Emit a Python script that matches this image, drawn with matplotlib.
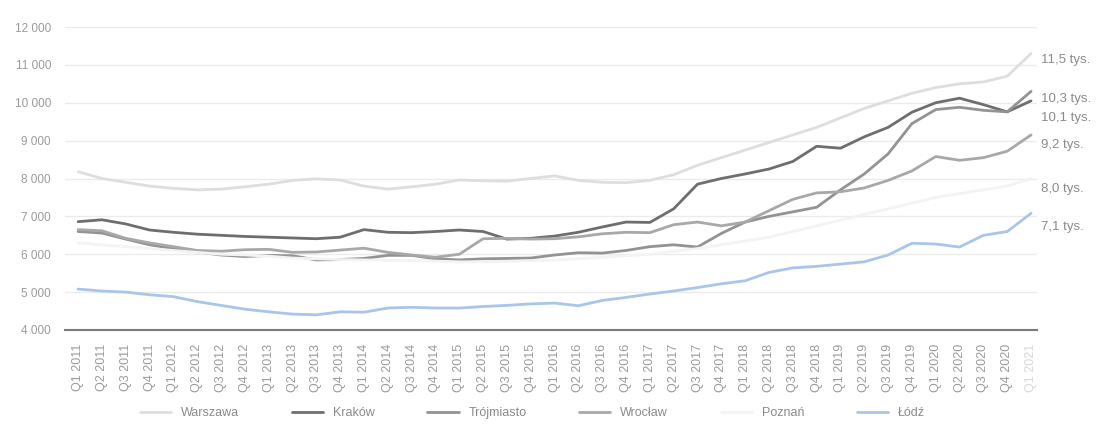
import matplotlib
matplotlib.use('Agg')
import matplotlib.pyplot as plt

plt.rcParams['font.family'] = ['Liberation Sans', 'DejaVu Sans']

quarters = ['Q%d %d' % (q, y) for y in range(2011, 2021) for q in range(1, 5)] + ['Q1 2021']

warszawa = [8180, 8000, 7900, 7800, 7740, 7700, 7720, 7780, 7850, 7950, 7990, 7960, 7800, 7720,
            7780, 7850, 7960, 7940, 7930, 8000, 8070, 7950, 7900, 7890, 7950, 8100, 8350, 8550,
            8750, 8950, 9150, 9350, 9600, 9850, 10050, 10250, 10400, 10500, 10550, 10700, 11300]
krakow = [6860, 6910, 6800, 6640, 6580, 6530, 6500, 6470, 6450, 6430, 6410, 6450, 6650, 6580,
          6570, 6600, 6640, 6600, 6400, 6420, 6480, 6580, 6720, 6850, 6840, 7200, 7850, 8000,
          8120, 8250, 8450, 8850, 8800, 9100, 9350, 9750, 10000, 10120, 9950, 9760, 10050]
trojmiasto = [6600, 6560, 6400, 6250, 6150, 6060, 5980, 5940, 5970, 5960, 5850, 5860, 5890, 5970,
              5970, 5880, 5850, 5880, 5890, 5900, 5980, 6040, 6030, 6100, 6200, 6250, 6190, 6550,
              6850, 7000, 7120, 7240, 7700, 8120, 8650, 9450, 9820, 9880, 9800, 9760, 10300]
wroclaw = [6650, 6620, 6420, 6300, 6200, 6100, 6080, 6120, 6130, 6050, 6060, 6110, 6160, 6050,
           5980, 5920, 6000, 6410, 6420, 6400, 6410, 6460, 6540, 6580, 6570, 6780, 6850, 6750,
           6850, 7150, 7450, 7620, 7650, 7750, 7950, 8200, 8580, 8480, 8550, 8720, 9150]
poznan = [6300, 6250, 6200, 6150, 6100, 6050, 6000, 5980, 5950, 5900, 5880, 5860, 5850, 5840,
          5830, 5820, 5800, 5800, 5810, 5830, 5850, 5880, 5920, 5960, 6000, 6080, 6150, 6250,
          6350, 6450, 6600, 6750, 6900, 7050, 7200, 7350, 7500, 7600, 7700, 7800, 8000]
lodz = [5080, 5030, 5000, 4930, 4880, 4750, 4650, 4550, 4480, 4420, 4400, 4480, 4470, 4580,
        4600, 4580, 4580, 4620, 4650, 4690, 4710, 4640, 4780, 4860, 4950, 5030, 5120, 5220,
        5300, 5520, 5640, 5680, 5740, 5800, 5980, 6290, 6270, 6190, 6500, 6600, 7080]

end_labels = ['11,5 tys.', '10,1 tys.', '10,3 tys.', '9,2 tys.', '8,0 tys.', '7,1 tys.']

series = [('Warszawa', warszawa, '#dedede'),
          ('Kraków', krakow, '#6e6e6e'),
          ('Trójmiasto', trojmiasto, '#939393'),
          ('Wrocław', wroclaw, '#a8a8a8'),
          ('Poznań', poznan, '#f3f3f3'),
          ('Łódź', lodz, '#a9c5ea')]
label_shift = [-180, -440, -190, -260, -290, -370]

fig = plt.figure(figsize=(10.98, 4.28), dpi=100)
ax = fig.add_axes([65 / 1098, 1 - 330 / 428, 972 / 1098, 303 / 428])

x = list(range(len(quarters)))
for name, vals, col in series:
    ax.plot(x, vals, color=col, lw=2, label=name, solid_capstyle='round')

for (name, vals, col), txt, dy in zip(series, end_labels, label_shift):
    ax.text(40.4, vals[-1] + dy, txt, color='#8a8a8a', fontsize=9.5, va='center', ha='left',
            clip_on=False)

ax.set_xlim(-0.55, 40.25)
ax.set_ylim(4000, 12000)
ax.set_yticks(range(4000, 12001, 1000))
ax.set_yticklabels(['{:,}'.format(v).replace(',', ' ') for v in range(4000, 12001, 1000)],
                   color='#9a9a9a', fontsize=8.5)
ax.set_xticks(x)
ax.set_xticklabels(quarters, rotation=90, color='#9a9a9a', fontsize=9)
ax.get_xticklabels()[-1].set_color('#d8d8d8')
ax.tick_params(length=0, pad=10)
ax.grid(axis='y', color='#ebebeb', lw=1)
ax.set_axisbelow(True)
for s in ['top', 'right', 'left']:
    ax.spines[s].set_visible(False)
ax.spines['bottom'].set_color('#7a7a7a')
ax.spines['bottom'].set_linewidth(1.5)

fig.legend(loc='lower center', bbox_to_anchor=(0.485, -0.005), ncol=6, frameon=False,
           fontsize=9, labelcolor='#8a8a8a', columnspacing=4.2, handlelength=2.5)

fig.savefig('out.png', dpi=100)
